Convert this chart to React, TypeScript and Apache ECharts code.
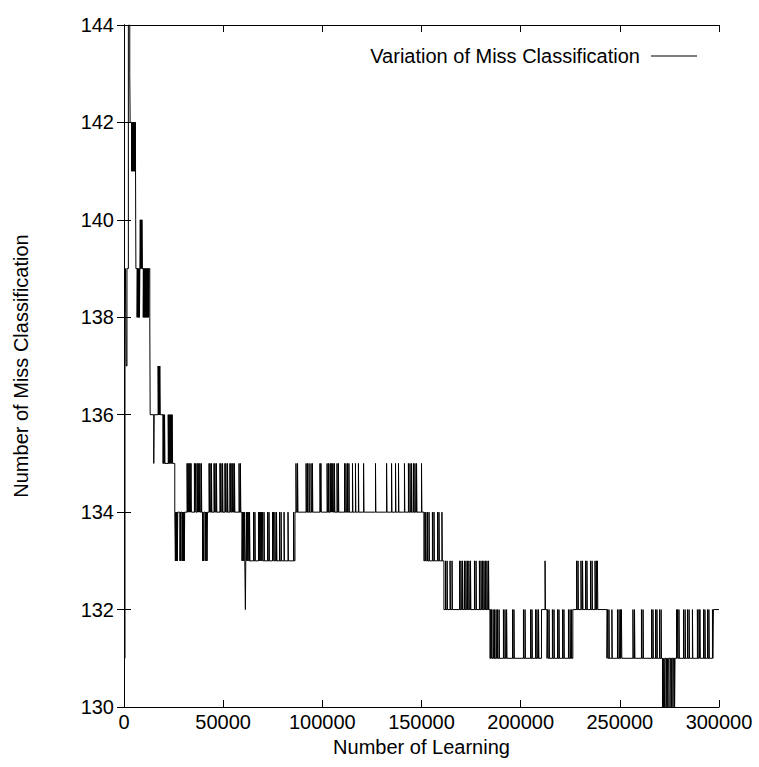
import React, { useEffect, useRef } from "react";
import * as echarts from "echarts";

// x values are in thousands of learning steps
const baseStartK = [0, 0.5, 0.8, 1.1, 1.5, 2.2, 2.9, 3.1, 5.9, 6.0, 13.0, 13.1, 13.2, 19.7, 25.6, 59.5, 86.2, 151.2, 161.3, 184.5, 210.5, 213.3, 226.3, 243.5, 297.2, 300];
const baseLevel = [131, 138, 139, 137, 139, 144, 143, 142, 140, 139, 138, 137, 136, 135, 134, 133, 134, 133, 132, 131, 132, 131, 132, 131, 132, 132];

// short excursions away from the running level (x in thousands)
const spikes130 = [271.5, 272.0, 272.5, 273.3, 273.8, 274.3, 275.3, 276.1, 276.8, 277.6];
const spikes132 = [61.2, 184.9, 185.3, 186.1, 186.8, 187.6, 188.3, 189.1, 191.3, 192.1, 192.9, 195.9, 196.6, 201.4, 202.2, 205.0, 205.7, 207.5, 208.2, 209.0, 213.6, 214.3, 216.0, 216.8, 218.6, 219.3, 221.1, 221.8, 224.1, 224.9, 225.6, 243.8, 244.5, 246.0, 248.8, 249.6, 250.3, 250.8, 256.6, 257.4, 260.9, 261.7, 266.0, 266.7, 268.0, 268.7, 270.0, 270.8, 278.6, 279.1, 279.8, 282.1, 282.9, 284.1, 284.9, 286.6, 289.1, 289.9, 290.4, 292.2, 292.9, 294.2, 294.9, 296.7];
const spikes133 = [25.9, 26.2, 26.5, 26.9, 28.2, 28.6, 29.3, 29.7, 30.1, 30.4, 39.6, 40.1, 40.9, 41.4, 41.9, 162.1, 162.9, 164.4, 165.4, 169.2, 169.9, 170.7, 171.7, 172.4, 173.2, 173.9, 174.7, 176.7, 177.5, 179.2, 180.0, 180.8, 181.5, 182.3, 183.0, 183.8, 212.3, 228.2, 228.9, 230.4, 231.2, 232.7, 233.4, 235.2, 236.0, 237.5, 238.2, 238.7];
const spikes134 = [59.7, 60.2, 60.7, 61.7, 62.2, 62.7, 63.3, 65.3, 66.0, 67.8, 68.3, 68.8, 69.3, 69.8, 70.6, 72.4, 73.1, 74.9, 75.4, 76.1, 76.9, 78.4, 79.2, 80.7, 82.7, 85.5, 151.7, 152.2, 153.0, 153.8, 155.5, 156.3, 158.1, 158.8, 160.3];
const spikes135 = [15.0, 31.8, 32.3, 32.8, 33.3, 33.8, 35.5, 36.0, 36.8, 37.3, 37.8, 38.3, 39.0, 42.9, 43.4, 44.1, 45.4, 45.9, 46.6, 48.4, 48.9, 49.7, 50.9, 51.4, 52.2, 53.4, 53.9, 54.5, 55.0, 55.7, 58.0, 58.7, 86.7, 87.5, 91.8, 92.5, 93.3, 94.3, 95.0, 98.8, 99.3, 102.4, 103.1, 103.9, 104.4, 104.9, 105.4, 106.1, 107.4, 108.1, 111.2, 111.9, 112.7, 113.4, 115.2, 116.7, 118.2, 120.8, 126.8, 132.4, 134.9, 136.9, 138.4, 141.4, 143.4, 144.2, 145.0, 146.0, 146.7, 147.5, 150.0];
const spikes136 = [19.8, 20.1, 20.45, 22.3, 22.7, 23.1, 23.5, 23.9, 24.3];
const spikes137 = [17.2, 17.5, 17.8, 18.05];
const spikes138 = [6.6, 6.9, 7.2, 7.5, 7.8, 9.7, 10.0, 10.3, 10.6, 10.9, 11.2, 11.5, 11.8, 12.1, 12.4];
const spikes140 = [8.2, 8.5, 8.8, 9.05];
const spikes141 = [3.8, 4.05, 4.3, 4.55, 4.8, 5.05, 5.3, 5.55];

const yTicks = { min: 130, max: 144, step: 2 };
const xTicks = { min: 0, max: 300000, step: 50000 };

const SPIKE_LEN = 0.2;

function buildSeries(): [number, number][] {
  type Ev = { x: number; y: number; kind: "base" | "spike" };
  const evs: Ev[] = [];
  baseStartK.forEach((x, i) => evs.push({ x, y: baseLevel[i], kind: "base" }));
  const groups: [number, number[]][] = [
    [130, spikes130], [132, spikes132], [133, spikes133], [134, spikes134],
    [135, spikes135], [136, spikes136], [137, spikes137], [138, spikes138],
    [140, spikes140], [141, spikes141],
  ];
  groups.forEach(([lvl, xs]) => xs.forEach((x) => evs.push({ x, y: lvl, kind: "spike" })));
  evs.sort((a, b) => a.x - b.x);
  const out: [number, number][] = [];
  let cur = baseLevel[0];
  for (const e of evs) {
    if (e.kind === "base") {
      cur = e.y;
      out.push([e.x * 1000, e.y]);
    } else {
      out.push([e.x * 1000, e.y]);
      out.push([(e.x + SPIKE_LEN) * 1000, cur]);
    }
  }
  return out;
}

const FONT = "'Liberation Sans', Arial, Helvetica, sans-serif";

export default function App() {
  const ref = useRef<HTMLDivElement>(null);
  useEffect(() => {
    const chart = echarts.init(ref.current!, null, { renderer: "svg" });
    const axisLine = { show: true, lineStyle: { color: "#000", width: 1 } };
    const axisTick = { show: true, inside: true, length: 7, lineStyle: { color: "#000", width: 1 } };
    chart.setOption({
      animation: false,
      backgroundColor: "#fff",
      grid: { left: 124, right: 40, top: 25, bottom: 60, containLabel: false },
      legend: {
        show: true,
        right: 62,
        top: 46,
        padding: 0,
        align: "right",
        icon: "rect",
        itemWidth: 46,
        itemHeight: 1,
        selectedMode: false,
        textStyle: { color: "#000", fontSize: 20, fontFamily: FONT, padding: [0, 6, 0, 0] },
        data: [{ name: "Variation of Miss Classification", itemStyle: { color: "#000" } }],
      },
      xAxis: [
        {
          type: "value",
          position: "bottom",
          min: xTicks.min,
          max: xTicks.max,
          interval: xTicks.step,
          axisLine,
          axisTick,
          splitLine: { show: false },
          axisLabel: {
            color: "#000",
            fontSize: 20,
            fontFamily: FONT,
            margin: 5,
            formatter: (v: number) => String(v),
          },
          name: "Number of Learning",
          nameLocation: "middle",
          nameGap: 28,
          nameTextStyle: { color: "#000", fontSize: 20, fontFamily: FONT },
        },
        {
          type: "value",
          position: "top",
          min: xTicks.min,
          max: xTicks.max,
          interval: xTicks.step,
          axisLine,
          axisTick,
          splitLine: { show: false },
          axisLabel: { show: false },
        },
      ],
      yAxis: [
        {
          type: "value",
          position: "left",
          min: yTicks.min,
          max: yTicks.max,
          interval: yTicks.step,
          axisLine,
          axisTick,
          splitLine: { show: false },
          axisLabel: { color: "#000", fontSize: 20, fontFamily: FONT, margin: 10 },
          name: "Number of Miss Classification",
          nameLocation: "middle",
          nameGap: 93,
          nameTextStyle: { color: "#000", fontSize: 20, fontFamily: FONT },
        },
        {
          type: "value",
          position: "right",
          min: yTicks.min,
          max: yTicks.max,
          interval: yTicks.step,
          axisLine,
          axisTick,
          splitLine: { show: false },
          axisLabel: { show: false },
        },
      ],
      series: [
        {
          name: "Variation of Miss Classification",
          type: "line",
          step: "end",
          symbol: "none",
          data: buildSeries(),
          lineStyle: { color: "#000", width: 1 },
          itemStyle: { color: "#000" },
        },
      ],
    });
    return () => chart.dispose();
  }, []);
  return (
    <div
      ref={ref}
      style={{ position: "absolute", left: 0, top: 0, width: 759, height: 767 }}
    />
  );
}
